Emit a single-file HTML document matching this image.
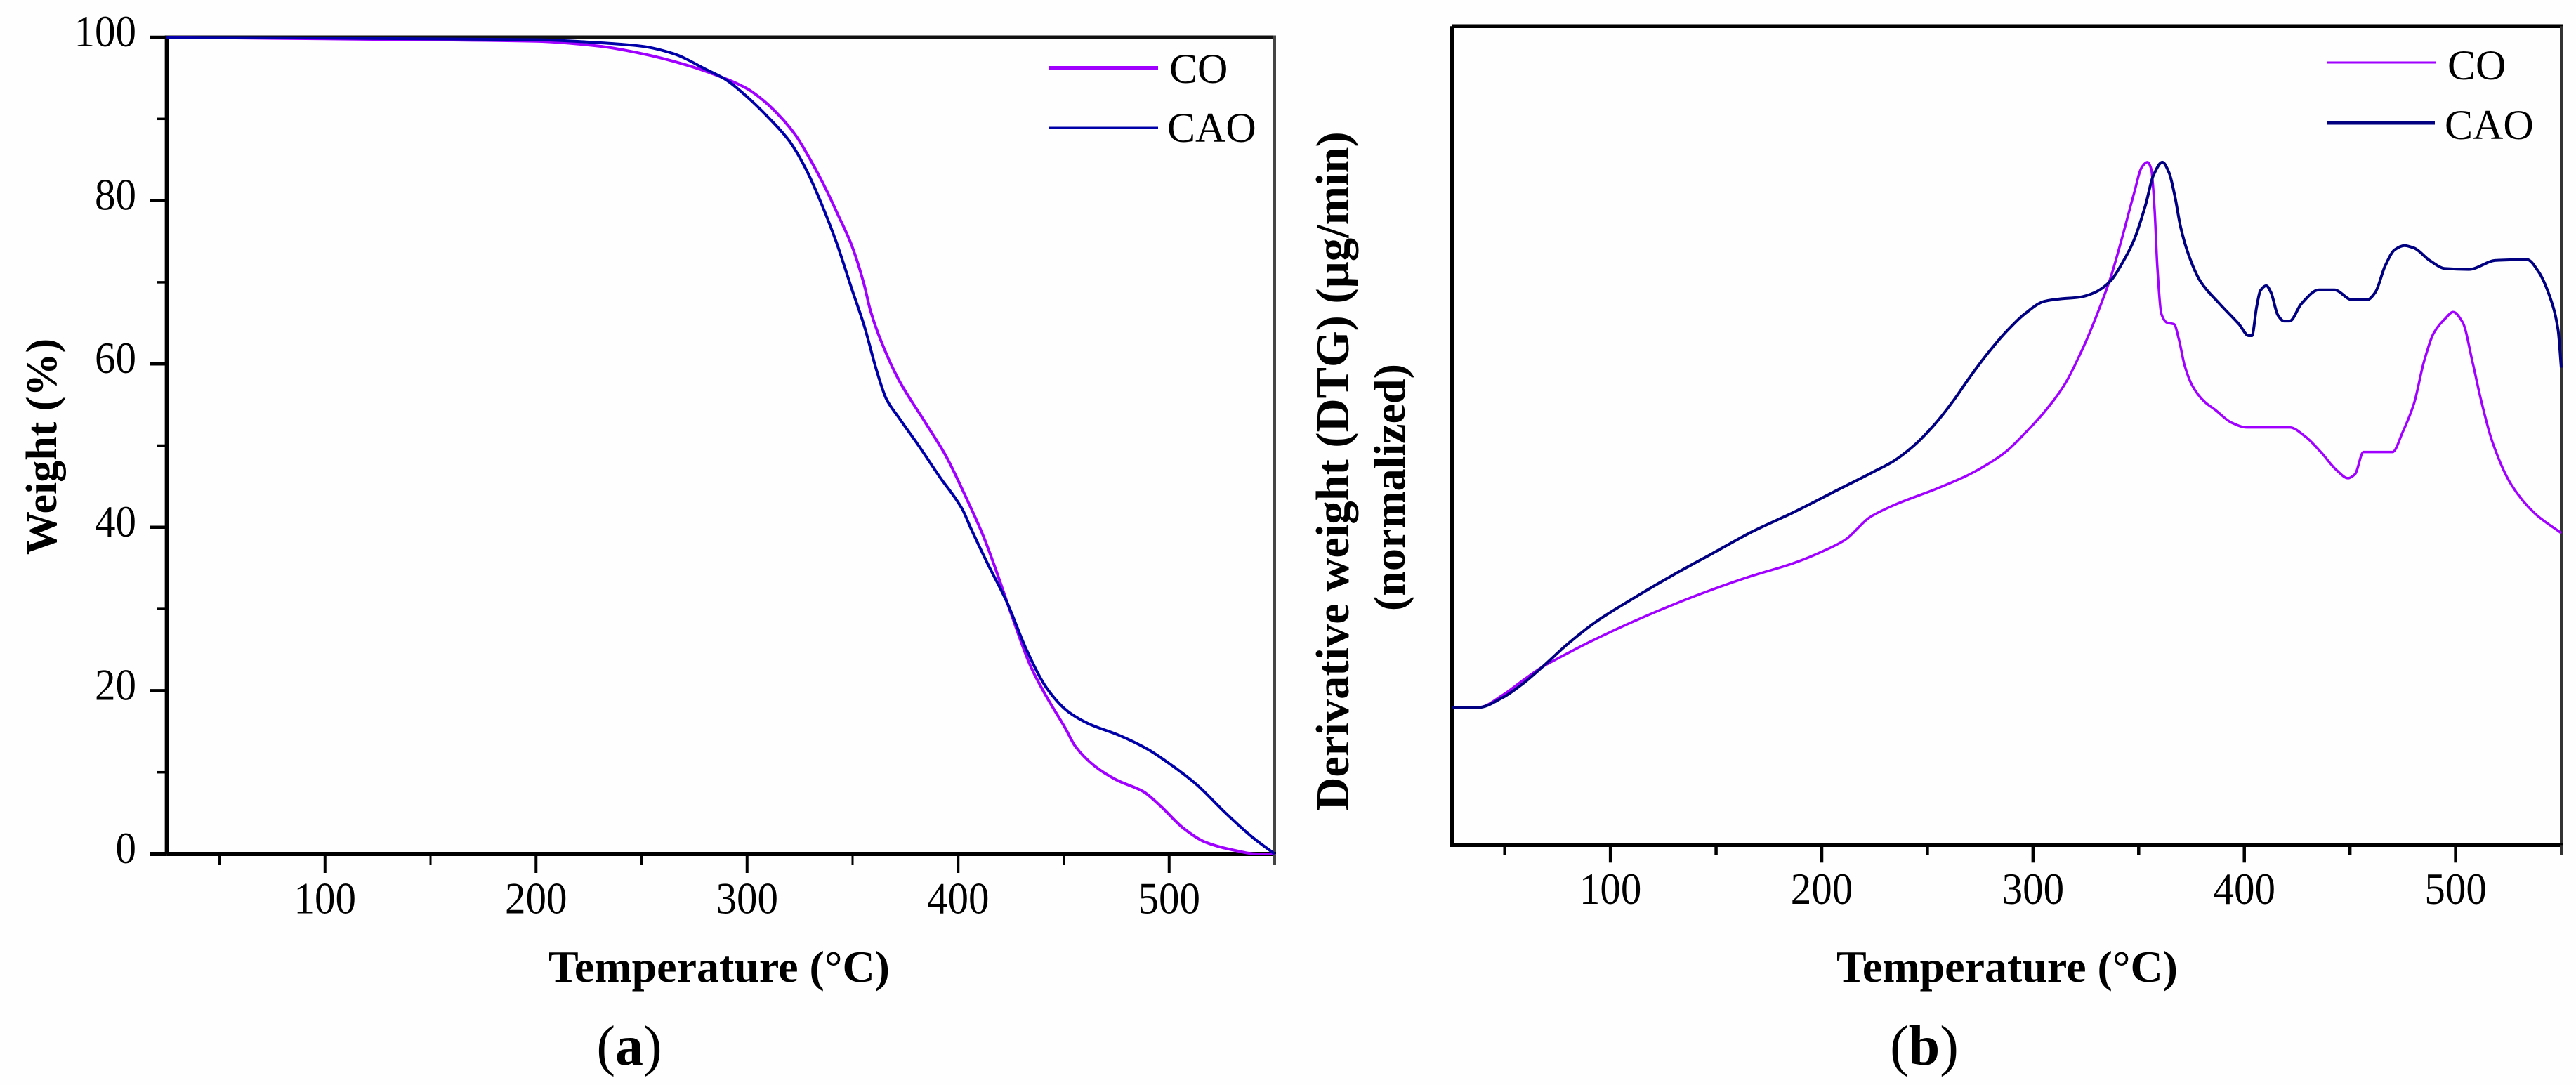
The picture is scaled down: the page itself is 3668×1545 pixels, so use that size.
<!DOCTYPE html>
<html lang="en">
<head>
<meta charset="utf-8">
<title>TGA and DTG curves</title>
<style>
html,body{margin:0;padding:0;background:#fefefe;}
svg{display:block;}
text{font-family:"Liberation Serif",serif;fill:#000;}
</style>
</head>
<body>
<svg id="figure" xmlns="http://www.w3.org/2000/svg" width="3668" height="1545" viewBox="0 0 3668 1545">
  <rect x="0" y="0" width="3668" height="1545" fill="#fefefe"/>

  <g id="panelA"></g>
  <g id="panelB"></g>

  <text transform="translate(80,636) rotate(-90)" text-anchor="middle" font-size="62" font-weight="bold">Weight (%)</text>
  <text x="1024" y="1398" text-anchor="middle" font-size="64" font-weight="bold">Temperature (°C)</text>
  <text x="896" y="1516" text-anchor="middle" font-size="80">(<tspan font-weight="bold">a</tspan>)</text>

  <line x1="1494" y1="96.7" x2="1649" y2="96.7" stroke="#a000ff" stroke-width="5.5"/>
  <text x="1665" y="118" font-size="60">CO</text>
  <line x1="1494" y1="182" x2="1649" y2="182" stroke="#0000a8" stroke-width="3"/>
  <text x="1662" y="202" font-size="60">CAO</text>

  <text transform="translate(1920,671) rotate(-90)" text-anchor="middle" font-size="66.5" font-weight="bold">Derivative weight (DTG) (µg/min)</text>
  <text transform="translate(2000,694) rotate(-90)" text-anchor="middle" font-size="64" font-weight="bold">(normalized)</text>
  <text x="2858" y="1398" text-anchor="middle" font-size="64" font-weight="bold">Temperature (°C)</text>
  <text x="2740" y="1516" text-anchor="middle" font-size="80">(<tspan font-weight="bold">b</tspan>)</text>

  <line x1="3313" y1="89" x2="3469" y2="89" stroke="#a000ff" stroke-width="3"/>
  <text x="3485" y="113" font-size="60">CO</text>
  <line x1="3313" y1="175" x2="3467" y2="175" stroke="#000080" stroke-width="5"/>
  <text x="3481" y="198" font-size="60">CAO</text>
</svg>

<script>
// ---------- shared tick data ----------
const xMajorTicks = [100, 200, 300, 400, 500];
const xMinorTicks = [50, 150, 250, 350, 450, 550];
const xTickLabels = ["100", "200", "300", "400", "500"];
const yMajorTicksA = [0, 20, 40, 60, 80, 100];
const yMinorTicksA = [10, 30, 50, 70, 90];
const yTickLabelsA = ["0", "20", "40", "60", "80", "100"];

// ---------- panel (a): weight % vs temperature ----------
const tempsACO = [25,100,200,230,250,270,285,300,308,316,323,330,337,343,349.6,355.6,358.6,365.9,372,384,394.3,403.3,412,416.5,425,434.5,442,450.8,455.5,465,474.8,488,495.8,507,516.7,530,542,550];
const weightCO = [100,99.8,99.5,98.9,98,96.7,95.4,93.7,92.2,90.2,88,85,81.6,78.3,74.5,69.6,66.4,61.3,58,53,48.7,43.9,38.9,35.8,29.5,22.9,19.2,15.4,13.2,10.7,9.1,7.6,5.9,3.1,1.5,0.5,0,0];
const tempsACAO = [25,200,225,250,265,281,290,300,310,320,328,335.6,342.3,349.6,355.6,361.6,366,372,381,391.2,402,406,413.5,423,432.6,442,451.8,461.4,476.6,490,501.5,513,526.4,539.7,550];
const weightCAO = [100,99.7,99.4,98.9,98,96,94.8,92.7,90.2,87.3,83.8,79.4,74.9,69.2,64.6,59,55.7,53.4,50.1,46.2,42.2,39.9,35.8,30.9,24.9,20.3,17.5,16,14.5,12.8,10.8,8.5,5.1,2,0];

// ---------- panel (b): normalized DTG vs temperature ----------
const tempsBCO = [25,37.5,48.9,58.5,68,73.7,90.9,110,129.1,148.2,167.3,186.4,201.6,211.2,222.6,234.1,253.2,268.6,277.8,287,296.2,305.4,314.6,323.8,331.2,336.7,342.3,347.8,351.5,354.2,356,357.5,358.8,360.7,363.4,366.8,369,371.7,375.4,380.9,386.5,393.8,401.2,421.5,428.8,436.2,443.6,449.1,452.4,456.4,470.2,474.9,480.4,485,489.6,495.1,498.8,503.4,508,511.7,517.2,526.4,537.5,550];
const dtgCO = [16.8,16.8,18.3,20.1,21.8,22.6,24.9,27.2,29.3,31.2,32.9,34.4,36,37.3,40,41.5,43.4,45.1,46.4,48,50.3,52.9,56.1,60.8,65.4,69.3,74.3,79.6,82.8,83.4,82.5,77.8,70.7,64.9,63.8,63.6,61.8,58.6,56.1,54.2,53.1,51.6,51,51,49.9,48,45.8,44.8,45.3,48,48,50.4,54,59,62.5,64.3,65.1,63.8,59,54.7,49.4,44,40.5,38.1];
const tempsBCAO = [25,37.5,48.9,58.5,68,79.5,92.8,110,129.1,148.2,167.3,186.4,205.5,224.6,234.1,243.7,253.2,262.7,268.6,277.8,287,296.2,305.4,312.8,322,329.4,336.7,342.3,347.8,353.3,357,361.2,364.4,367.1,369.9,373.6,379.1,388.3,397.5,402.1,403.6,405.8,407.6,410.4,412.6,415.9,418.7,421.5,427,435.3,442.6,450.9,458.3,462,466.6,471.2,475.8,480.4,487.7,495.1,506.2,519,533.8,539.3,544.8,548.5,550];
const dtgCAO = [16.8,16.8,18,19.7,21.8,24.5,27.2,30,32.9,35.6,38.3,40.6,43.1,45.6,46.9,48.8,51.3,54.4,56.6,59.8,62.6,64.9,66.4,66.7,66.9,67.5,68.9,71.1,73.9,78.2,81.8,83.4,82.1,79.3,75.4,72.1,68.9,66.1,63.6,62.2,62.2,65.7,67.7,68.3,67.5,64.7,64,64,66.1,67.8,67.8,66.6,66.6,67.5,70.7,72.7,73.2,72.9,71.4,70.4,70.3,71.4,71.5,70,66.8,62.9,58.3];

const SVG_NS = 'http://www.w3.org/2000/svg';
const TICK_COLOR = '#000';

function make(tag, parent) {
  const el = document.createElementNS(SVG_NS, tag);
  parent.appendChild(el);
  return el;
}

function lineBetween(el, x1, y1, x2, y2, width, color) {
  el.setAttribute('x1', x1);
  el.setAttribute('y1', y1);
  el.setAttribute('x2', x2);
  el.setAttribute('y2', y2);
  el.setAttribute('stroke', color);
  el.setAttribute('stroke-width', width);
}

// Monotone cubic through the data points: no overshoot, smooth on uneven spacing.
function smoothPath(xs, ys, sx, sy) {
  const px = xs.map(sx);
  const py = ys.map(sy);
  const n = px.length;
  const sec = [];
  for (let i = 0; i < n - 1; i++) sec.push((py[i + 1] - py[i]) / (px[i + 1] - px[i]));
  const m = [sec[0]];
  for (let i = 1; i < n - 1; i++) {
    if (sec[i - 1] * sec[i] <= 0) {
      m.push(0);
    } else {
      const h0 = px[i] - px[i - 1];
      const h1 = px[i + 1] - px[i];
      const w1 = 2 * h1 + h0;
      const w2 = h1 + 2 * h0;
      m.push((w1 + w2) / (w1 / sec[i - 1] + w2 / sec[i]));
    }
  }
  m.push(sec[n - 2]);
  let d = 'M' + px[0].toFixed(1) + ' ' + py[0].toFixed(1);
  for (let i = 0; i < n - 1; i++) {
    const h = (px[i + 1] - px[i]) / 3;
    d += 'C' + (px[i] + h).toFixed(1) + ' ' + (py[i] + m[i] * h).toFixed(1) + ' ' +
         (px[i + 1] - h).toFixed(1) + ' ' + (py[i + 1] - m[i + 1] * h).toFixed(1) + ' ' +
         px[i + 1].toFixed(1) + ' ' + py[i + 1].toFixed(1);
  }
  return d;
}

function tickText(el, x, y, label, anchor) {
  el.setAttribute('x', x);
  el.setAttribute('y', y);
  el.setAttribute('text-anchor', anchor);
  el.setAttribute('font-size', '63');
  el.setAttribute('textLength', label.length * 29.5);
  el.setAttribute('lengthAdjust', 'spacingAndGlyphs');
  el.textContent = label;
}

// ---------- panel (a) ----------
(function drawA() {
  const root = document.getElementById('panelA');
  const xA = t => 237.4 + (t - 25) * (1815 - 237.4) / 525;
  const yA = v => 1216 - v * (1216 - 53) / 100;

  const spineLeft = make('line', root);
  
  
  lineBetween(spineLeft, xA(25), yA(100) - 2.5, xA(25), yA(0), 5.5, '#000');

  const spineTop = make('line', root);
  
  
  lineBetween(spineTop, xA(25), yA(100), xA(550), yA(100), 5, '#111');

  const spineRight = make('line', root);
  
  
  lineBetween(spineRight, xA(550), yA(100) - 2.5, xA(550), yA(0), 4, '#444');

  const spineBottom = make('line', root);
  
  
  lineBetween(spineBottom, xA(25), yA(0), xA(550) + 2, yA(0), 6, '#000');

  xMajorTicks.forEach((t, i) => {
    const tick = make('line', root);
    
    
    lineBetween(tick, xA(t), yA(0), xA(t), yA(0) + 27, 4, TICK_COLOR);
    const lab = make('text', root);
    
    
    tickText(lab, xA(t), 1300.7, xTickLabels[i], 'middle');
  });
  xMinorTicks.forEach(t => {
    const tick = make('line', root);
    
    
    lineBetween(tick, xA(t), yA(0), xA(t), yA(0) + 16, t === 550 ? 4 : 3, t === 550 ? '#444' : TICK_COLOR);
  });
  yMajorTicksA.forEach((v, i) => {
    const tick = make('line', root);
    
    
    lineBetween(tick, 213, yA(v), xA(25), yA(v), v === 0 ? 6 : 4.5, TICK_COLOR);
    const lab = make('text', root);
    
    
    tickText(lab, 194, yA(v) + 13, yTickLabelsA[i], 'end');
  });
  yMinorTicksA.forEach(v => {
    const tick = make('line', root);
    
    
    lineBetween(tick, 223, yA(v), xA(25), yA(v), 3.5, TICK_COLOR);
  });

  const co = make('path', root);
  
  
  co.setAttribute('d', smoothPath(tempsACO, weightCO, xA, yA));
  co.setAttribute('fill', 'none');
  co.setAttribute('stroke', '#a000ff');
  co.setAttribute('stroke-width', '4');

  const cao = make('path', root);
  
  
  cao.setAttribute('d', smoothPath(tempsACAO, weightCAO, xA, yA));
  cao.setAttribute('fill', 'none');
  cao.setAttribute('stroke', '#0000a8');
  cao.setAttribute('stroke-width', '4');
})();

// ---------- panel (b) ----------
(function drawB() {
  const root = document.getElementById('panelB');
  const xB = t => 2067.5 + (t - 25) * (3647 - 2067.5) / 525;
  const yB = v => 1203.3 - v * 11.66;
  const topY = 37.3;

  const spineLeft = make('line', root);
  
  
  lineBetween(spineLeft, xB(25), topY, xB(25), yB(0) + 2.5, 5, '#000');

  const spineTop = make('line', root);
  
  
  lineBetween(spineTop, xB(25), topY, xB(550) + 2, topY, 5.5, '#000');

  const spineRight = make('line', root);
  
  
  lineBetween(spineRight, xB(550), topY, xB(550), yB(0), 4, '#333');

  const spineBottom = make('line', root);
  
  
  lineBetween(spineBottom, xB(25) - 2.5, yB(0), xB(550) + 2, yB(0), 5.5, '#000');

  xMajorTicks.forEach((t, i) => {
    const tick = make('line', root);
    
    
    lineBetween(tick, xB(t), yB(0), xB(t), yB(0) + 25, 4.5, TICK_COLOR);
    const lab = make('text', root);
    
    
    tickText(lab, xB(t), 1287, xTickLabels[i], 'middle');
  });
  xMinorTicks.forEach(t => {
    const tick = make('line', root);
    
    
    lineBetween(tick, xB(t), yB(0), xB(t), yB(0) + 14, t === 550 ? 4 : 4.5, t === 550 ? '#333' : TICK_COLOR);
  });

  const co = make('path', root);
  
  
  co.setAttribute('d', smoothPath(tempsBCO, dtgCO, xB, yB));
  co.setAttribute('fill', 'none');
  co.setAttribute('stroke', '#a000ff');
  co.setAttribute('stroke-width', '3.5');

  const cao = make('path', root);
  
  
  cao.setAttribute('d', smoothPath(tempsBCAO, dtgCAO, xB, yB));
  cao.setAttribute('fill', 'none');
  cao.setAttribute('stroke', '#000080');
  cao.setAttribute('stroke-width', '4');
})();
</script>
</body>
</html>
